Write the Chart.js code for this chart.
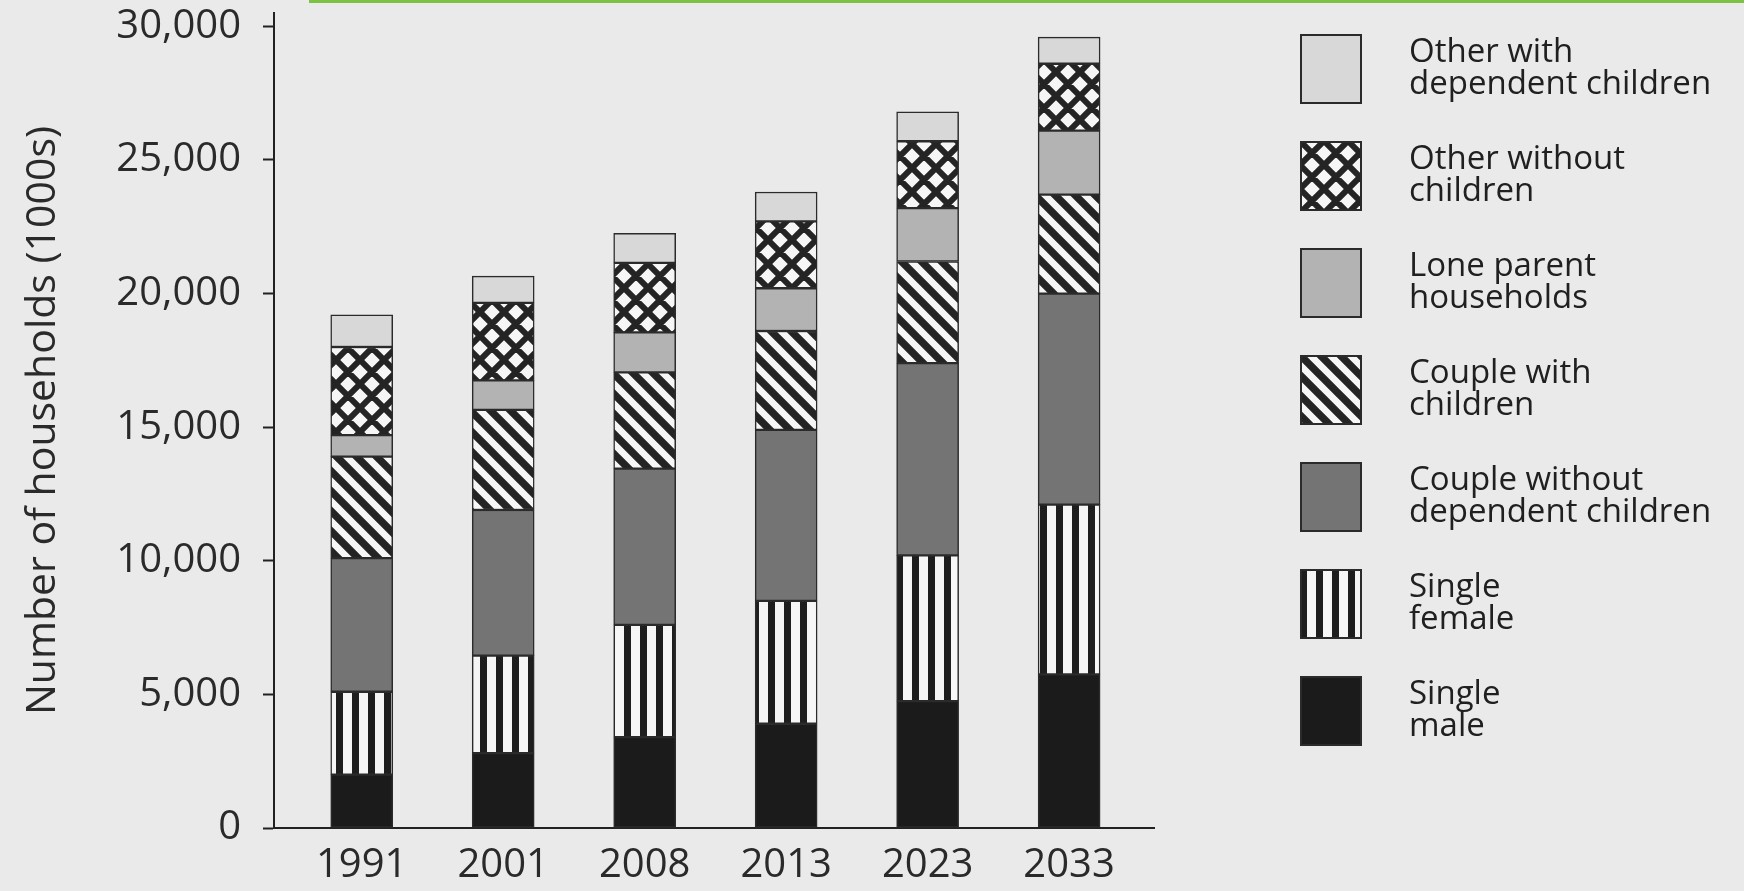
<!DOCTYPE html>
<html>
<head>
<meta charset="utf-8">
<script src="https://cdn.jsdelivr.net/npm/chart.js@4.4.1/dist/chart.umd.min.js"></script>
<style>
  html, body { margin: 0; padding: 0; background: #ebeaeb; }
  #wrap { position: relative; width: 1744px; height: 891px; overflow: hidden; }
  #strip { position: absolute; left: 309px; top: 0; width: 1435px; height: 3px; background: #7dc343; }
  #chartBox { position: absolute; left: 0; top: 0; width: 1744px; height: 891px; }
  #legend { position: absolute; left: 1300px; top: 34px; }
  .item { position: absolute; left: 0; }
  .item canvas { display: block; }
  .item span { position: absolute; left: 109px; top: 0; font: 33px/32px "Open Sans"; color: #202020; white-space: nowrap; }
</style>
</head>
<body>
<div id="wrap">
  <div id="strip"></div>
  <div id="chartBox"><canvas id="households"></canvas></div>
  <div id="legend"></div>
</div>
<script>
// values in thousands of households
const years = ['1991', '2001', '2008', '2013', '2023', '2033'];
const singleMale   = [2000, 2800, 3400, 3900, 4750, 5750];
const singleFemale = [3100, 3650, 4200, 4600, 5450, 6350];
const coupleNoKids = [5000, 5450, 5850, 6400, 7200, 7900];
const coupleKids   = [3800, 3750, 3600, 3700, 3800, 3700];
const loneParent   = [800, 1100, 1500, 1600, 2000, 2400];
const otherNoKids  = [3300, 2900, 2600, 2500, 2500, 2500];
const otherKids    = [1200, 1000, 1100, 1100, 1100, 1000];
const yTicks = [0, 5000, 10000, 15000, 20000, 25000, 30000];

// bottom of the stack first
const series = [
  { lines: ['Single', 'male'], values: singleMale, fill: 'black' },
  { lines: ['Single', 'female'], values: singleFemale, fill: 'vert' },
  { lines: ['Couple without', 'dependent children'], values: coupleNoKids, fill: 'dark' },
  { lines: ['Couple with', 'children'], values: coupleKids, fill: 'diag' },
  { lines: ['Lone parent', 'households'], values: loneParent, fill: 'mid' },
  { lines: ['Other without', 'children'], values: otherNoKids, fill: 'cross' },
  { lines: ['Other with', 'dependent children'], values: otherKids, fill: 'light' },
];

const INK = '#222';

// hatch patterns like the printed ones
function fillFor(ctx, kind) {
  if (kind === 'black') return '#1b1b1b';
  if (kind === 'dark') return '#747474';
  if (kind === 'mid') return '#b3b3b3';
  if (kind === 'light') return '#d8d8d8';
  const t = document.createElement('canvas');
  const g = t.getContext('2d');
  const s = kind === 'cross' ? 24 : kind === 'diag' ? 20 : 16;
  t.width = s; t.height = s;
  g.fillStyle = '#f6f6f6';
  g.fillRect(0, 0, s, s);
  if (kind === 'vert') {
    g.fillStyle = '#1e1e1e';
    g.fillRect(0, 0, 7, s);
  } else {
    g.strokeStyle = '#242424';
    g.lineWidth = kind === 'cross' ? 6 : 7.5;
    g.beginPath();
    // run each line well past the tile so the ends leave no gaps
    for (let k = -2; k <= 2; k++) {
      g.moveTo(k * s - s, -s); g.lineTo(k * s + 2 * s, 2 * s);
      if (kind === 'cross') { g.moveTo(k * s + 2 * s, -s); g.lineTo(k * s - s, 2 * s); }
    }
    g.stroke();
  }
  return ctx.createPattern(t, 'repeat');
}

const canvas = document.getElementById('households');
const ctx = canvas.getContext('2d');

const chart = new Chart(canvas, {
  type: 'bar',
  data: {
    datasets: series.map(s => ({
      label: s.lines.join(' '),
      data: s.values.map((v, i) => ({ x: i, y: v })),
      backgroundColor: fillFor(ctx, s.fill),
      borderColor: '#2b2b2b',
      borderWidth: 1.5,
      borderSkipped: false,
      barThickness: 62,
    })),
  },
  options: {
    responsive: true,
    maintainAspectRatio: false,
    animation: false,
    layout: { padding: { top: 13, right: 590, left: 0, bottom: 0 } },
    plugins: { legend: { display: false }, tooltip: { enabled: false } },
    scales: {
      x: {
        type: 'linear',
        offset: false,
        stacked: true,
        min: -0.62,
        max: 5.6,
        grid: { display: false, drawTicks: false },
        border: { display: true, color: INK, width: 2 },
        afterBuildTicks: s => { s.ticks = years.map((_, i) => ({ value: i })); },
        afterFit: s => { s.height = 63; s.paddingLeft = 0; s.paddingRight = 0; },
        ticks: {
          callback: v => years[v] ?? '',
          font: { family: 'Open Sans', size: 40 },
          color: '#2a2a2a',
          padding: 14,
          maxRotation: 0,
        },
      },
      y: {
        stacked: true,
        min: 0,
        max: 30500,
        afterBuildTicks: s => { s.ticks = yTicks.map(v => ({ value: v })); },
        afterFit: s => { s.width = 274; s.paddingTop = 0; s.paddingBottom = 0; },
        grid: { drawOnChartArea: false, drawTicks: true, tickLength: 11, tickColor: INK, tickWidth: 2 },
        border: { display: true, color: INK, width: 2 },
        ticks: {
          callback: v => v.toLocaleString('en-US'),
          font: { family: 'Open Sans', size: 40 },
          color: '#2a2a2a',
          padding: 22,
        },
        title: {
          display: true,
          text: 'Number of households (1000s)',
          font: { family: 'Open Sans', size: 41 },
          color: '#2a2a2a',
          padding: { top: 19, bottom: 0 },
        },
      },
    },
  },
});

// legend on the right, top entry = top of the stack
const legend = document.getElementById('legend');
series.slice().reverse().forEach((s, i) => {
  const item = document.createElement('div');
  item.className = 'item';
  item.style.top = (i * 107) + 'px';
  const sw = document.createElement('canvas');
  sw.width = 62; sw.height = 70;
  const g = sw.getContext('2d');
  g.fillStyle = fillFor(g, s.fill);
  g.fillRect(0, 0, 62, 70);
  g.strokeStyle = '#2b2b2b';
  g.lineWidth = 2;
  g.strokeRect(1, 1, 60, 68);
  const txt = document.createElement('span');
  txt.innerHTML = s.lines.join('<br>');
  item.appendChild(sw);
  item.appendChild(txt);
  legend.appendChild(item);
});
</script>
</body>
</html>
